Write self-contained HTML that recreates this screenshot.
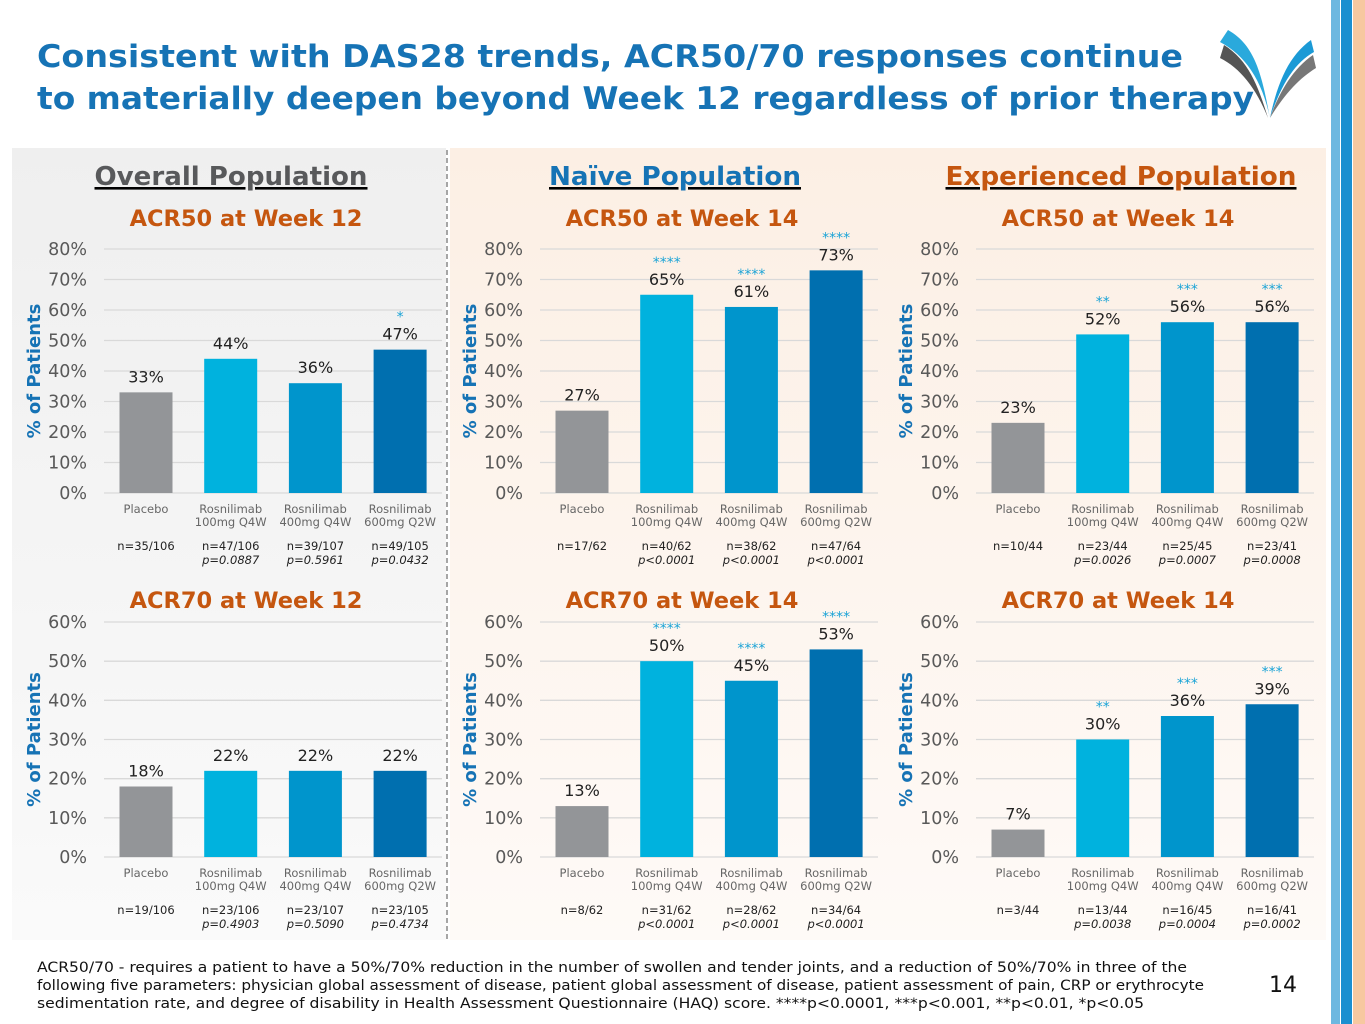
<!DOCTYPE html>
<html><head><meta charset="utf-8"><style>
body{margin:0;background:#fff;}
svg{display:block;font-family:"DejaVu Sans","Liberation Sans",sans-serif;}
</style></head><body>
<svg id="s" width="1365" height="1024" viewBox="0 0 1365 1024" xmlns="http://www.w3.org/2000/svg">
<defs>
<linearGradient id="gg" x1="0" y1="0" x2="0" y2="1"><stop offset="0" stop-color="#efefef"/><stop offset="1" stop-color="#fafafa"/></linearGradient>
<linearGradient id="pg" x1="0" y1="0" x2="0" y2="1"><stop offset="0" stop-color="#fcefe4"/><stop offset="1" stop-color="#fefaf7"/></linearGradient>
</defs>
<rect x="12" y="148" width="434" height="792" fill="url(#gg)"/>
<rect x="450" y="148" width="876" height="792" fill="url(#pg)"/>
<line x1="447" y1="150" x2="447" y2="940" stroke="#888" stroke-width="1.5" stroke-dasharray="5,3"/>
<rect x="1331" y="0" width="9" height="1024" fill="#6db8e0"/>
<rect x="1341" y="0" width="11" height="1024" fill="#1b8fd0"/>
<rect x="1353" y="0" width="12" height="1024" fill="#f7c8a0"/>
<g>
<path d="M1228 30 C1255 45 1262 75 1270 118 C1262 80 1245 55 1220 42 Z" fill="#2aa9dc"/>
<path d="M1224 45 C1248 60 1258 85 1268 118 C1256 88 1240 68 1220 58 Z" fill="#555"/>
<path d="M1311 40 C1290 55 1278 80 1270 118 C1282 82 1296 62 1314 52 Z" fill="#1b9ad6"/>
<path d="M1313 55 C1294 68 1280 90 1270 118 C1286 92 1300 78 1316 68 Z" fill="#777"/>
</g>
<text x="37" y="67" font-size="31" font-weight="bold" fill="#1673b5" textLength="1146" lengthAdjust="spacingAndGlyphs">Consistent with DAS28 trends, ACR50/70 responses continue</text>
<text x="37" y="109" font-size="31" font-weight="bold" fill="#1673b5" textLength="1217" lengthAdjust="spacingAndGlyphs">to materially deepen beyond Week 12 regardless of prior therapy</text>
<g font-size="26" font-weight="bold" text-decoration="underline">
<text x="231" y="185" text-anchor="middle" fill="#58595b" textLength="273" lengthAdjust="spacingAndGlyphs">Overall Population</text>
<text x="675" y="185" text-anchor="middle" fill="#1673b5" textLength="252" lengthAdjust="spacingAndGlyphs">Naïve Population</text>
<text x="1121" y="185" text-anchor="middle" fill="#c5560f" textLength="351" lengthAdjust="spacingAndGlyphs">Experienced Population</text>
</g>
<text x="37" y="972" font-size="14.5" fill="#111" textLength="1150" lengthAdjust="spacingAndGlyphs">ACR50/70 - requires a patient to have a 50%/70% reduction in the number of swollen and tender joints, and a reduction of 50%/70% in three of the</text>
<text x="37" y="990" font-size="14.5" fill="#111" textLength="1167" lengthAdjust="spacingAndGlyphs">following five parameters: physician global assessment of disease, patient global assessment of disease, patient assessment of pain, CRP or erythrocyte</text>
<text x="37" y="1008" font-size="14.5" fill="#111" textLength="1107" lengthAdjust="spacingAndGlyphs">sedimentation rate, and degree of disability in Health Assessment Questionnaire (HAQ) score. ****p&lt;0.0001, ***p&lt;0.001, **p&lt;0.01, *p&lt;0.05</text>
<text x="1283" y="992" font-size="22" text-anchor="middle" fill="#111">14</text>
<g id="charts"></g>
</svg>
<script>
const categories = ["Placebo","Rosnilimab 100mg Q4W","Rosnilimab 400mg Q4W","Rosnilimab 600mg Q2W"];
const chartTitles = ["ACR50 at Week 12","ACR50 at Week 14","ACR50 at Week 14","ACR70 at Week 12","ACR70 at Week 14","ACR70 at Week 14"];
const overallAcr50 = [33,44,36,47];
const naiveAcr50 = [27,65,61,73];
const expAcr50 = [23,52,56,56];
const overallAcr70 = [18,22,22,22];
const naiveAcr70 = [13,50,45,53];
const expAcr70 = [7,30,36,39];
const overallAcr50Stars = ["","","","*"];
const naiveAcr50Stars = ["","****","****","****"];
const expAcr50Stars = ["","**","***","***"];
const overallAcr70Stars = ["","","",""];
const naiveAcr70Stars = ["","****","****","****"];
const expAcr70Stars = ["","**","***","***"];
const overallAcr50N = ["n=35/106","n=47/106","n=39/107","n=49/105"];
const naiveAcr50N = ["n=17/62","n=40/62","n=38/62","n=47/64"];
const expAcr50N = ["n=10/44","n=23/44","n=25/45","n=23/41"];
const overallAcr70N = ["n=19/106","n=23/106","n=23/107","n=23/105"];
const naiveAcr70N = ["n=8/62","n=31/62","n=28/62","n=34/64"];
const expAcr70N = ["n=3/44","n=13/44","n=16/45","n=16/41"];
const overallAcr50P = ["","p=0.0887","p=0.5961","p=0.0432"];
const naiveAcr50P = ["","p<0.0001","p<0.0001","p<0.0001"];
const expAcr50P = ["","p=0.0026","p=0.0007","p=0.0008"];
const overallAcr70P = ["","p=0.4903","p=0.5090","p=0.4734"];
const naiveAcr70P = ["","p<0.0001","p<0.0001","p<0.0001"];
const expAcr70P = ["","p=0.0038","p=0.0004","p=0.0002"];
const acr50Ticks = [0,10,20,30,40,50,60,70,80];
const acr70Ticks = [0,10,20,30,40,50,60];

const NS="http://www.w3.org/2000/svg";
const root=document.getElementById('charts');
const colors=["#939598","#00b2de","#0095cc","#006faf"];
function el(tag,attrs,parent,txt){const e=document.createElementNS(NS,tag);for(const k in attrs)e.setAttribute(k,attrs[k]);if(txt!==undefined)e.textContent=txt;parent.appendChild(e);return e;}

const specs=[
 {v:overallAcr50,s:overallAcr50Stars,n:overallAcr50N,p:overallAcr50P,ticks:acr50Ticks,t:0,ox:0,y0:493,ytop:249,max:80,ty:226,key:"overall-acr50"},
 {v:naiveAcr50,s:naiveAcr50Stars,n:naiveAcr50N,p:naiveAcr50P,ticks:acr50Ticks,t:1,ox:436,y0:493,ytop:249,max:80,ty:226,key:"naive-acr50"},
 {v:expAcr50,s:expAcr50Stars,n:expAcr50N,p:expAcr50P,ticks:acr50Ticks,t:2,ox:872,y0:493,ytop:249,max:80,ty:226,key:"experienced-acr50"},
 {v:overallAcr70,s:overallAcr70Stars,n:overallAcr70N,p:overallAcr70P,ticks:acr70Ticks,t:3,ox:0,y0:857,ytop:622,max:60,ty:608,key:"overall-acr70"},
 {v:naiveAcr70,s:naiveAcr70Stars,n:naiveAcr70N,p:naiveAcr70P,ticks:acr70Ticks,t:4,ox:436,y0:857,ytop:622,max:60,ty:608,key:"naive-acr70"},
 {v:expAcr70,s:expAcr70Stars,n:expAcr70N,p:expAcr70P,ticks:acr70Ticks,t:5,ox:872,y0:857,ytop:622,max:60,ty:608,key:"experienced-acr70"}
];
specs.forEach(sp=>{
 const g=el('g',{},root);
 
 
 const yS=v=>sp.y0-(v/sp.max)*(sp.y0-sp.ytop);
 const xS=i=>sp.ox+146+i*84.7;
 const tt=el('text',{x:sp.ox+246,y:sp.ty,'font-size':22.5,'font-weight':'bold',fill:'#c5560f','text-anchor':'middle'},g,chartTitles[sp.t]);
 
 
 const ya=el('text',{transform:`translate(${sp.ox+40},${(sp.y0+sp.ytop)/2}) rotate(-90)`,'font-size':18,'font-weight':'bold',fill:'#1673b5','text-anchor':'middle'},g,'% of Patients');
 
 
 sp.ticks.forEach(t=>{
  const gl=el('line',{x1:sp.ox+104,x2:sp.ox+442,y1:yS(t),y2:yS(t),stroke:'#d9d9d9','stroke-width':1.3},g);
  
  
  const tl=el('text',{x:sp.ox+87,y:yS(t)+6,'font-size':17.5,fill:'#595959','text-anchor':'end'},g,t+'%');
  
  
 });
 sp.v.forEach((v,i)=>{
  const cx=xS(i);
  const b=el('rect',{x:cx-26.5,y:yS(v),width:53,height:sp.y0-yS(v),fill:colors[i]},g);
  
  
  const vl=el('text',{x:cx,y:yS(v)-10,'font-size':16,fill:'#222','text-anchor':'middle'},g,v+'%');
  
  
  if(sp.s[i]){
   const st=el('text',{x:cx,y:yS(v)-28,'font-size':14,fill:'#1aa3d6','text-anchor':'middle'},g,sp.s[i]);
   
   
  }
  const parts=i===0?['Placebo']:['Rosnilimab',categories[i].replace('Rosnilimab ','')];
  parts.forEach((p,j)=>{
   const cl=el('text',{x:cx,y:sp.y0+20+j*13,'font-size':11.5,fill:'#666','text-anchor':'middle'},g,p);
   
   
  });
  const nl=el('text',{x:cx,y:sp.y0+57,'font-size':11.5,fill:'#222','text-anchor':'middle'},g,sp.n[i]);
  
  
  if(sp.p[i]){
   const pl=el('text',{x:cx,y:sp.y0+71,'font-size':11.5,'font-style':'italic',fill:'#222','text-anchor':'middle'},g,sp.p[i]);
   
   
  }
 });
});
</script>
</body></html>
